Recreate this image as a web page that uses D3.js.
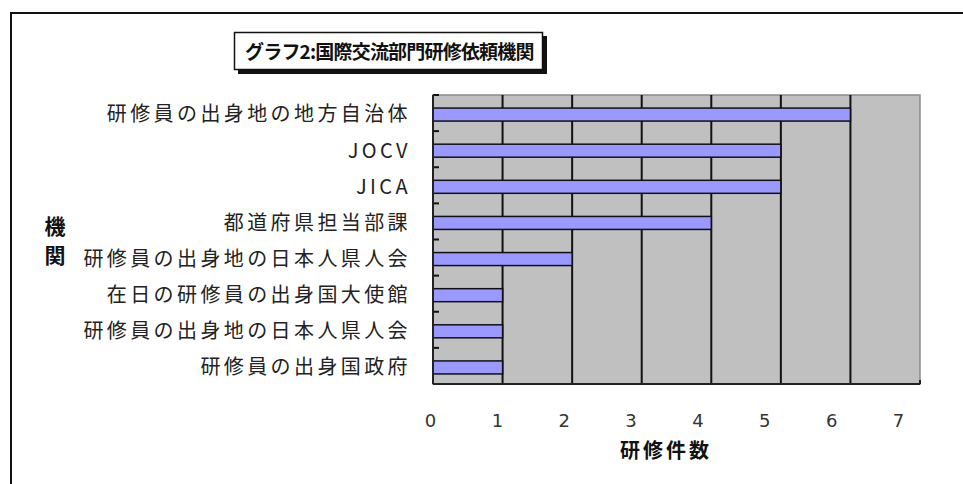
<!DOCTYPE html>
<meta charset="utf-8">
<script src="https://d3js.org/d3.v7.min.js"></script>
<style>
  body { margin: 0; background: #fff; font-family: "Noto Sans CJK JP", sans-serif; }
</style>
<div id="chart"></div>
<script>
// data, top to bottom as in the picture
var categories = [
  "研修員の出身地の地方自治体",
  "JOCV",
  "JICA",
  "都道府県担当部課",
  "研修員の出身地の日本人県人会 ",
  "在日の研修員の出身国大使館",
  "研修員の出身地の日本人県人会",
  "研修員の出身国政府"
];
var counts = [6, 5, 5, 4, 2, 1, 1, 1];
var xTicks = [0, 1, 2, 3, 4, 5, 6, 7];
var titleText = "グラフ2:国際交流部門研修依頼機関";
var yTitle = ["機", "関"];
var xTitle = "研修件数";

var W = 963, H = 484;
var plot = {left: 433, top: 95, right: 920, bottom: 384};

var svg = d3.select("#chart").append("svg")
  .attr("width", W).attr("height", H);

// outer frame (only left and top are visible)
svg.append("path")
  .attr("d", "M11,484 L11,13 L963,13")
  .attr("fill", "none").attr("stroke", "#111").attr("stroke-width", 2);

var x = d3.scaleLinear().domain([0, 7]).range([plot.left, plot.right]);
// labels in the picture sit a little left of the grid lines
var xLab = d3.scaleLinear().domain([0, 7]).range([plot.left - 3, plot.right - 22]);

var y = d3.scaleBand().domain(categories).range([plot.top + 1.5, plot.bottom + 1.5])
  .paddingInner(0.64).paddingOuter(0.32);
var yCell = d3.scaleBand().domain(categories).range([plot.top, plot.bottom]);

// plot area
svg.append("rect")
  .attr("x", plot.left).attr("y", plot.top)
  .attr("width", plot.right - plot.left).attr("height", plot.bottom - plot.top)
  .attr("fill", "#c0c0c0").attr("stroke", "#8a8a8a").attr("stroke-width", 1.5);

// vertical grid lines
svg.append("g").selectAll("line")
  .data(xTicks.filter(function(d) { return d > 0 && d < 7; }))
  .join("line")
    .attr("x1", function(d) { return x(d); }).attr("x2", function(d) { return x(d); })
    .attr("y1", plot.top).attr("y2", plot.bottom)
    .attr("stroke", "#111").attr("stroke-width", 2);

// bars
svg.append("g").selectAll("rect")
  .data(categories)
  .join("rect")
    .attr("x", x(0))
    .attr("y", function(d) { return y(d); })
    .attr("width", function(d, i) { return x(counts[i]) - x(0); })
    .attr("height", y.bandwidth())
    .attr("fill", "#9999ff")
    .attr("stroke", "#111").attr("stroke-width", 1.5);

// inside tick marks at category boundaries
svg.append("g").selectAll("line")
  .data(categories)
  .join("line")
    .attr("x1", plot.left).attr("x2", plot.left + 6)
    .attr("y1", function(d) { return yCell(d); })
    .attr("y2", function(d) { return yCell(d); })
    .attr("stroke", "#111").attr("stroke-width", 2);

// axis lines
svg.append("line")
  .attr("x1", plot.left).attr("x2", plot.left)
  .attr("y1", plot.top).attr("y2", plot.bottom)
  .attr("stroke", "#222").attr("stroke-width", 2);
svg.append("line")
  .attr("x1", plot.left).attr("x2", plot.right)
  .attr("y1", plot.bottom).attr("y2", plot.bottom)
  .attr("stroke", "#222").attr("stroke-width", 2);
svg.append("line")
  .attr("x1", plot.right).attr("x2", plot.right)
  .attr("y1", plot.bottom - 4).attr("y2", plot.bottom)
  .attr("stroke", "#222").attr("stroke-width", 2);

// category labels
var yAxis = svg.append("g")
  .attr("transform", "translate(" + (plot.left - 22) + ",0)")
  .call(d3.axisLeft(y).tickSize(0).tickPadding(0));
yAxis.select(".domain").remove();
yAxis.selectAll("text")
  .attr("font-family", "'Noto Sans CJK JP', sans-serif")
  .attr("font-size", 20)
  .attr("letter-spacing", "3.4px")
  .attr("fill", "#222")
  .attr("dy", "0.34em")
  .text(function(d) { return d.trim(); });

// x tick labels
var xAxis = svg.append("g")
  .attr("transform", "translate(0," + 411 + ")")
  .call(d3.axisBottom(xLab).tickValues(xTicks).tickSize(0).tickFormat(d3.format("d")));
xAxis.select(".domain").remove();
xAxis.selectAll("text")
  .attr("font-family", "'DejaVu Sans', sans-serif")
  .attr("font-size", 18)
  .attr("fill", "#333");

// x axis title
svg.append("text")
  .attr("x", 666).attr("y", 458)
  .attr("text-anchor", "middle")
  .attr("font-size", 20).attr("font-weight", "bold")
  .attr("letter-spacing", "3px")
  .attr("fill", "#111")
  .text(xTitle);

// y axis title, stacked vertically
svg.append("g").selectAll("text")
  .data(yTitle)
  .join("text")
    .attr("x", 55)
    .attr("y", function(d, i) { return 234 + i * 29; })
    .attr("text-anchor", "middle")
    .attr("font-size", 21).attr("font-weight", "bold")
    .attr("fill", "#111")
    .text(function(d) { return d; });

// title box with drop shadow
svg.append("rect")
  .attr("x", 238).attr("y", 36).attr("width", 309).attr("height", 38)
  .attr("fill", "#111");
svg.append("rect")
  .attr("x", 234.5).attr("y", 32.5).attr("width", 308).attr("height", 37)
  .attr("fill", "#fff").attr("stroke", "#111").attr("stroke-width", 1.5);
svg.append("text")
  .attr("x", 245).attr("y", 59)
  .attr("font-size", 19).attr("font-weight", "bold")
  .attr("letter-spacing", "0.5px")
  .attr("textLength", 290).attr("lengthAdjust", "spacing")
  .attr("fill", "#111")
  .text(titleText);
</script>
